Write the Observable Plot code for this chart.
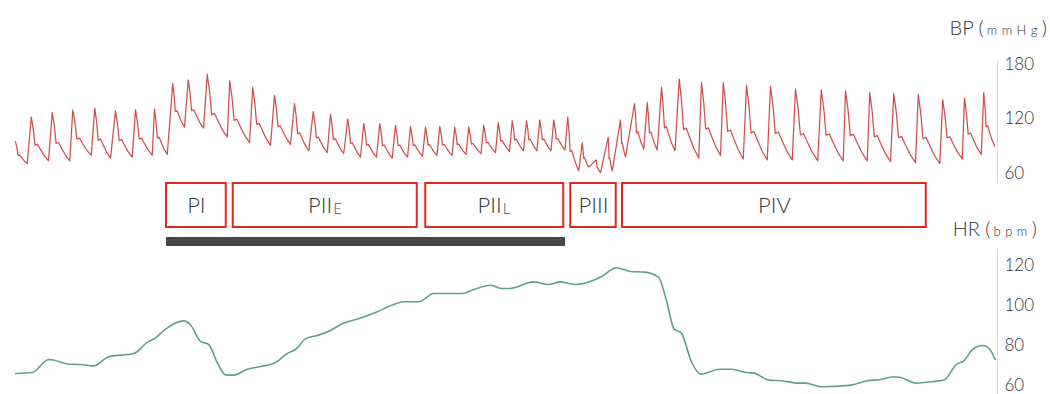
<!DOCTYPE html>
<html>
<head>
<meta charset="utf-8">
<script src="https://cdn.jsdelivr.net/npm/d3@7"></script>
<script src="https://cdn.jsdelivr.net/npm/@observablehq/plot@0.6"></script>
<style>
  html, body { margin: 0; padding: 0; background: #fff; }
  #chart { position: relative; width: 1050px; height: 394px; overflow: hidden;
           font-family: Lato, "Open Sans", sans-serif; font-weight: 300; color: #333; }
  #chart .layer { position: absolute; left: 0; }
  #chart .title { position: absolute; font-size: 20px; line-height: 22px; white-space: nowrap; color: #333; }
  #chart .title .u { font-size: 13px; letter-spacing: 4.5px; margin-left: 3px; }
</style>
</head>
<body>
<div id="chart">
  <div class="title" id="bpTitle" style="right:3px; top:16px;">BP (<span class="u">mmHg</span>)</div>
  <div class="title" id="hrTitle" style="right:13px; top:217px;">HR (<span class="u">bpm</span>)</div>
</div>
<script>
// ---- time axis (seconds) ----
const timeDomain = [0, 39.32];

// ---- arterial blood pressure: alternating turning points (start, trough, peak, trough, peak, ..., end) ----
const bpTurnTime = [
  0.04,
  0.51, 0.67,  1.36, 1.51,  2.21, 2.33,  3.07, 3.21,  3.84, 4.04,  4.71, 4.84,  5.51, 5.60,
  6.11, 6.33,  6.80, 6.95,  7.56, 7.71,  8.51, 8.61,  9.40, 9.53,  10.24, 10.40, 11.04, 11.20,
  11.77, 11.95, 12.51, 12.64, 13.17, 13.33, 13.84, 13.97, 14.48, 14.61, 15.11, 15.24, 15.72, 15.84,
  16.32, 16.44, 16.90, 17.01, 17.50, 17.61, 18.06, 18.17, 18.66, 18.77, 19.24, 19.35, 19.80, 19.91,
  20.36, 20.48, 20.90, 21.01, 21.46, 21.57, 22.02, 22.13,
  22.57, 22.71, 22.97, 23.27, 23.44, 23.75, 23.91, 24.24, 24.44, 24.80, 25.17, 25.31, 25.71, 25.88,
  26.42, 26.59, 27.37, 27.48, 28.24, 28.35, 29.15, 29.28, 30.11, 30.24, 31.11, 31.24, 32.13, 32.27,
  33.15, 33.24, 34.11, 34.21, 35.04, 35.17, 36.04, 36.15, 37.01, 37.13, 37.91, 38.00, 38.67, 38.77,
  39.21
];
const bpTurnValue = [
  95,
  71, 122,  74, 127,  74, 130,  80, 132,  77, 129,  78, 130,  80, 131,
  81, 159,  111, 163,  110, 169,  100, 162,  94, 155,  91, 146,  92, 137,
  85, 128,  83, 125,  82, 120,  78, 115,  78, 115,  77, 113,  78, 112,
  79, 111,  80, 112,  80, 111,  81, 111,  82, 113,  83, 116,  84, 118,
  85, 118,  85, 119,  85, 119,  86, 122,
  63, 94,  67, 75,  61, 100,  63, 119,  78, 137,  87, 138,  86, 155,
  85, 164,  77, 160,  80, 160,  76, 157,  75, 156,  75, 153,  74, 152,
  74, 151,  74, 149,  73, 148,  72, 147,  71, 141,  76, 143,  81, 149,
  90
];
// pulse contour after each peak: [fraction of time to next trough, fraction of pulse height]
const pulseShapeTime  = [0.12, 0.22, 0.36, 0.55, 0.75];
const pulseShapeLevel = [0.72, 0.36, 0.38, 0.25, 0.12];

// ---- heart rate ----
const hrTime = [
  0.04, 0.71, 1.37, 2.24, 2.64, 3.17, 3.77, 4.77, 5.31, 5.64, 6.04, 6.77, 7.04, 7.44, 7.77, 8.11,
  8.44, 8.77, 9.31, 9.84, 10.44, 10.91, 11.24, 11.64, 12.11, 12.57, 13.11, 13.84, 14.51, 15.11,
  15.57, 16.17, 16.77, 17.91, 18.37, 19.04, 19.51, 19.79, 20.77, 21.34, 21.82, 22.46, 23.51, 24.07,
  24.63, 25.20, 25.76, 26.04, 26.39, 26.67, 27.09, 27.44, 28.21, 28.70, 29.26, 29.54, 30.18, 30.67,
  31.37, 31.65, 32.28, 33.48, 34.11, 34.60, 35.16, 35.44, 36.07, 36.70, 37.20, 37.68, 37.97, 38.32,
  38.74, 38.95, 39.23
];
const hrValue = [
  66, 66.5, 73, 70.6, 70.5, 69.8, 74.4, 76, 81.6, 83.8, 88.2, 92.3, 90.4, 82.1, 80.5, 71.5,
  65.3, 65.2, 68.1, 69.5, 71.5, 76, 78, 83.3, 85, 87.1, 90.9, 93.7, 96.9, 100.2,
  101.9, 101.9, 106, 106, 108, 110.1, 108.5, 108.5, 111.8, 110.5, 111.8, 110.5, 114.6, 118.9,
  117, 116.7, 114.2, 104.3, 88.2, 86.3, 71.5, 65.7, 68.1, 68.1, 66.5, 66.3, 62.7, 62.4,
  61.2, 61.2, 59.4, 60.2, 62.4, 62.9, 64.4, 64, 61.2, 61.9, 62.9, 70.6, 72.2, 78,
  80, 78.9, 73.1
];

// ---- Valsalva phases ----
const phaseName  = ["PI", "PII", "PII", "PIII", "PIV"];
const phaseSub   = ["", "E", "L", "", ""];
const phaseStart = [6.08, 8.75, 16.45, 22.25, 24.32];
const phaseEnd   = [8.47, 16.11, 21.97, 24.07, 36.47];
const strainStart = [6.08];
const strainEnd   = [22.04];

// ---- axis ticks ----
const bpTicks = [60, 120, 180];
const hrTicks = [60, 80, 100, 120];

// ---------------- build tables ----------------
const bp = [];
for (let i = 0; i < bpTurnTime.length; i++) {
  bp.push({t: bpTurnTime[i], v: bpTurnValue[i]});
  if (i % 2 === 0 && i + 1 < bpTurnTime.length) {
    const t0 = bpTurnTime[i], s = bpTurnValue[i], t1 = bpTurnTime[i + 1], d = bpTurnValue[i + 1];
    for (let k = 0; k < pulseShapeTime.length; k++) {
      bp.push({t: t0 + pulseShapeTime[k] * (t1 - t0), v: d + pulseShapeLevel[k] * (s - d)});
    }
  }
}
const hr = hrTime.map((t, i) => ({t, v: hrValue[i]}));
const phases = phaseName.map((name, i) => ({name, sub: phaseSub[i], start: phaseStart[i], end: phaseEnd[i], mid: (phaseStart[i] + phaseEnd[i]) / 2}));
const strain = strainStart.map((s, i) => ({start: s, end: strainEnd[i]}));

// ---------------- plots ----------------
const chart = document.getElementById("chart");
function place(el, top) {
  const d = document.createElement("div");
  d.className = "layer";
  d.style.top = top + "px";
  d.appendChild(el);
  chart.insertBefore(d, chart.firstChild);
}
const common = {
  width: 1050, marginLeft: 14, marginRight: 53,
  x: {domain: timeDomain, axis: null},
  style: {fontFamily: 'Lato, "Open Sans", sans-serif', fontSize: "17px", fontWeight: 300, color: "#333", background: "transparent", overflow: "visible"}
};

// Blood pressure
place(Plot.plot({
  ...common,
  height: 183, marginTop: 60, marginBottom: 0,
  y: {domain: [49, 184.4], ticks: bpTicks, tickSize: 0, tickPadding: 7, axis: "right", label: null},
  marks: [
    Plot.ruleX([timeDomain[1]], {stroke: "#dddddd", strokeWidth: 1}),
    Plot.line(bp, {x: "t", y: "v", stroke: "#c62f2f", strokeWidth: 1.25, strokeOpacity: 0.85})
  ]
}), 0);

// Phase boxes
place(Plot.plot({
  ...common,
  height: 48, marginTop: 2, marginBottom: 2,
  marks: [
    Plot.rect(phases, {x1: "start", x2: "end", fill: "white", stroke: "#e2281e", strokeWidth: 2}),
    Plot.text(phases.filter(d => !d.sub), {x: "mid", text: "name", fontSize: 22, fill: "#333", fontWeight: 300}),
    Plot.text(phases.filter(d => d.sub), {x: "mid", text: "name", textAnchor: "end", dx: 7, fontSize: 22, fill: "#333", fontWeight: 300}),
    Plot.text(phases.filter(d => d.sub), {x: "mid", text: "sub", textAnchor: "start", dx: 8, dy: 4, fontSize: 15, fill: "#555", fontWeight: 300})
  ]
}), 181);

// Strain bar
place(Plot.plot({
  ...common,
  height: 9, marginTop: 0, marginBottom: 0,
  marks: [
    Plot.rect(strain, {x1: "start", x2: "end", fill: "#474747"})
  ]
}), 237);

// Heart rate
place(Plot.plot({
  ...common,
  height: 149, marginTop: 5, marginBottom: 0,
  y: {domain: [55.5, 127.5], ticks: hrTicks, tickSize: 0, tickPadding: 7, axis: "right", label: null},
  marks: [
    Plot.ruleX([timeDomain[1]], {stroke: "#dddddd", strokeWidth: 1}),
    Plot.line(hr, {x: "t", y: "v", stroke: "#5f9f95", strokeWidth: 1.6, curve: "monotone-x"})
  ]
}), 245);
</script>
</body>
</html>
